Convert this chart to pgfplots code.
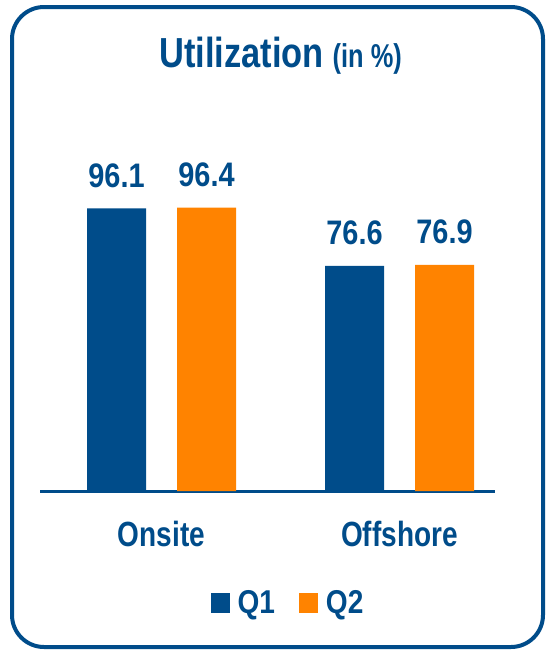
\documentclass[border=0pt]{standalone}
\usepackage{pgfplots}
\pgfplotsset{compat=1.18}
\usepackage{fontspec}
\setmainfont{Liberation Sans}[FakeStretch=0.8]
\newfontfamily\titlefont{Liberation Sans}[FakeStretch=0.82]
\newfontfamily\subfont{Liberation Sans}[FakeStretch=0.77]
\newfontfamily\numfont{Liberation Sans}[FakeStretch=0.85]
\definecolor{cblue}{RGB}{0,76,138}
\definecolor{corange}{RGB}{255,131,0}
\begin{document}
\begin{tikzpicture}
\useasboundingbox (0,0) rectangle (547pt,-653pt);
\draw[cblue, line width=4pt, rounded corners=32pt] (12pt,-7pt) rectangle (543pt,-647pt);
\node[anchor=base, text=cblue, inner sep=0pt] at (280.5pt,-67pt)
  {\titlefont\bfseries\fontsize{42}{46}\selectfont Utilization\hspace{9pt}\subfont\bfseries\fontsize{33}{36}\selectfont(in \%)};
\begin{axis}[
  anchor=south west, at={(40pt,-491pt)},
  x=238pt, y=2.94pt,
  xmin=-0.5105, xmax=1.4013, ymin=0, ymax=100,
  clip=false,
  ybar=31pt, bar width=59pt,
  axis x line=bottom, hide y axis,
  x axis line style={-, cblue, line width=3pt},
  xtick={0,1}, xticklabels={Onsite,Offshore},
  major tick length=0pt,
  xticklabel style={anchor=base, yshift=-55pt, text=cblue, font=\bfseries\fontsize{35}{40}\selectfont},
  nodes near coords={\pgfmathprintnumber[fixed,fixed zerofill,precision=1,assume math mode=true]{\pgfplotspointmeta}},
  every node near coord/.append style={anchor=base, yshift=21pt, inner sep=0pt, text=cblue, font=\numfont\bfseries\fontsize{34}{38}\selectfont},
  legend columns=2,
  legend style={at={(0.545,0)}, anchor=center, yshift=-112pt, draw=none, fill=none,
    text=cblue, font=\numfont\bfseries\fontsize{33}{36}\selectfont,
    /tikz/every even column/.append style={column sep=22pt}},
  legend image code/.code={\fill[#1] (0pt,-10pt) rectangle (19pt,10pt); \path (25pt,0pt);},
]
\addplot[fill=cblue, draw=none] coordinates {(0,96.1) (1,76.6)};
\addplot[fill=corange, draw=none] coordinates {(0,96.4) (1,76.9)};
\legend{Q1,Q2}
\end{axis}
\end{tikzpicture}
\end{document}
